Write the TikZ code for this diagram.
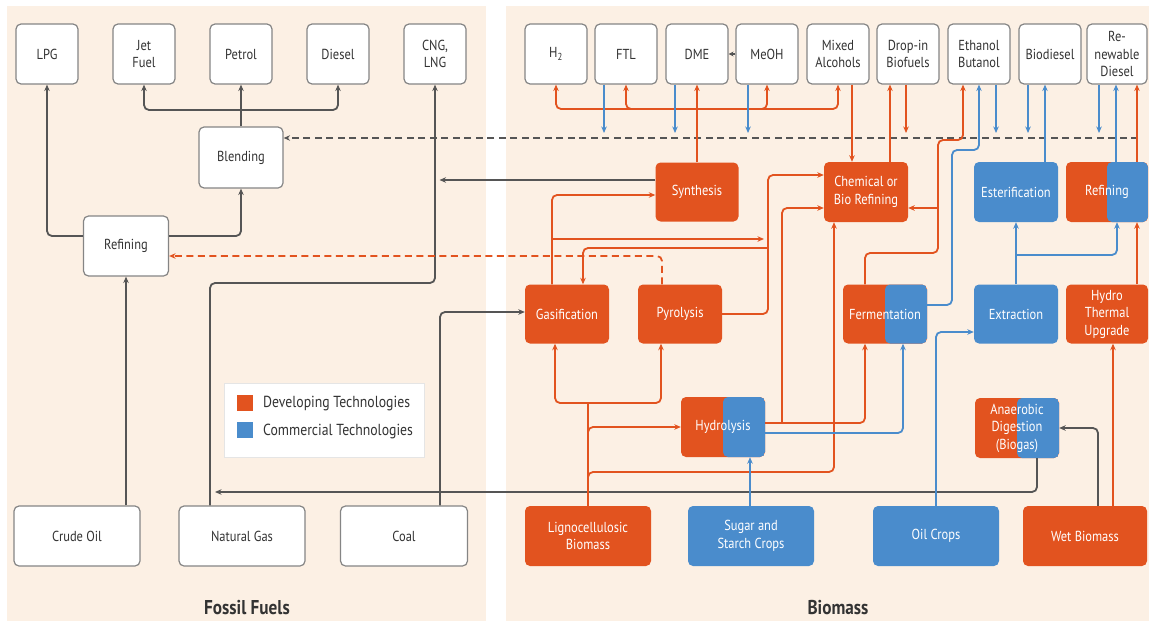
\documentclass[tikz,border=0pt]{standalone}
\usepackage{fontspec}
\setmainfont{PT Sans}[FakeStretch=0.86]
\usetikzlibrary{arrows.meta}
\definecolor{bgp}{HTML}{FCF0E4}
\definecolor{orng}{HTML}{E2531F}
\definecolor{blu}{HTML}{4A8CCC}
\definecolor{lgray}{HTML}{555555}
\definecolor{bgray}{HTML}{858585}
\definecolor{txt}{HTML}{333333}
\newcommand\bxf{\fontsize{14.5}{17.5}\selectfont}
\newcommand\lgf{\fontsize{16}{19}\selectfont}
\newcommand\lbf{\fontsize{20}{24}\selectfont\bfseries}
\begin{document}
\begin{tikzpicture}[x=1pt,y=-1pt,
  base/.style={rectangle, rounded corners=5pt, inner sep=1pt, align=center, font=\bxf},
  wbox/.style={base, draw=bgray, line width=1.2pt, fill=white, text=txt, minimum width=62pt, minimum height=60pt},
  obox/.style={base, fill=orng, text=white, minimum width=84pt, minimum height=59pt},
  bbox/.style={base, fill=blu, text=white, minimum width=84pt, minimum height=59pt},
  sbox/.style={base, fill=orng, text=white, minimum width=84pt, minimum height=59pt,
     path picture={\fill[blu] (path picture bounding box.south) rectangle (path picture bounding box.north east);}},
  conn/.style={line width=1.8pt, rounded corners=5pt, -{Stealth[length=6.5pt,width=5.5pt]}},
  gc/.style={conn, draw=lgray},
  oc/.style={conn, draw=orng},
  bc/.style={conn, draw=blu},
  dsh/.style={dash pattern=on 7pt off 4.5pt}
]
\useasboundingbox (0,0) rectangle (1149,621);
\fill[white] (0,0) rectangle (1149,621);
\fill[bgp] (7,6) rectangle (486,621);
\fill[bgp] (506,6) rectangle (1149,621);

% ---------- fossil nodes
\node[wbox] (lpg) at (47,54) {LPG};
\node[wbox] (jet) at (144,54) {Jet\\Fuel};
\node[wbox] (petrol) at (241,54) {Petrol};
\node[wbox] (diesel) at (338,54) {Diesel};
\node[wbox] (cng) at (435,54) {CNG,\\LNG};
\node[wbox, minimum width=84pt, minimum height=61pt] (blend) at (241,157.5) {Blending};
\node[wbox, minimum width=85pt] (refF) at (126,246) {Refining};
\node[wbox, minimum width=126pt] (crude) at (77,536) {Crude Oil};
\node[wbox, minimum width=126pt] (natgas) at (242,536) {Natural Gas};
\node[wbox, minimum width=127pt] (coal) at (404,536) {Coal};

% ---------- biomass products
\node[wbox] (h2) at (556,54) {H\textsubscript{2}};
\node[wbox] (ftl) at (626,54) {FTL};
\node[wbox] (dme) at (697,54) {DME};
\node[wbox] (meoh) at (767,54) {MeOH};
\node[wbox] (mixed) at (838,54) {Mixed\\Alcohols};
\node[wbox] (dropin) at (908,54) {Drop-in\\Biofuels};
\node[wbox] (ethanol) at (979,54) {Ethanol\\Butanol};
\node[wbox] (biodiesel) at (1050,54) {Biodiesel};
\node[wbox, minimum width=60pt] (renew) at (1117,54) {Re-\\newable\\Diesel};

% ---------- biomass processes
\node[obox, minimum width=83pt] (synth) at (697,192) {Synthesis};
\node[obox, minimum height=60pt] (chem) at (866,192) {Chemical or\\Bio Refining};
\node[bbox, minimum height=60pt] (ester) at (1016,192) {Esterification};
\node[sbox, minimum width=82pt, minimum height=60pt] (refB) at (1107,192) {Refining};
\node[obox] (gasif) at (567,314) {Gasification};
\node[obox] (pyro) at (680,314) {Pyrolysis};
\node[sbox] (ferm) at (885,314) {Fermentation};
\node[bbox] (extr) at (1016,314) {Extraction};
\node[obox, minimum width=82pt] (htu) at (1107,314) {Hydro\\Thermal\\Upgrade};
\node[sbox, minimum height=60pt] (hydro) at (723,427) {Hydrolysis};
\node[sbox, minimum height=60pt] (ad) at (1017,428) {Anaerobic\\Digestion\\(Biogas)};

% ---------- feedstocks
\node[obox, minimum width=126pt, minimum height=60pt] (ligno) at (588,536) {Lignocellulosic\\Biomass};
\node[bbox, minimum width=126pt, minimum height=60pt] (sugar) at (751,536) {Sugar and\\Starch Crops};
\node[bbox, minimum width=126pt, minimum height=60pt] (oil) at (936,536) {Oil Crops};
\node[obox, minimum width=124pt, minimum height=60pt] (wet) at (1085,536) {Wet Biomass};

% ---------- legend
\node[draw=black!10, fill=white, minimum width=200pt, minimum height=74pt, inner sep=0] (leg) at (324,420) {};
\node[fill=orng, minimum size=16pt, inner sep=0] (lego) at (245,403) {};
\node[fill=blu, minimum size=16pt, inner sep=0] (legb) at (245,430) {};
\node[anchor=west, font=\lgf, text=txt, inner sep=0] (lgt1) at (263,404) {Developing Technologies};
\node[anchor=west, font=\lgf, text=txt, inner sep=0] (lgt2) at (263,431) {Commercial Technologies};

% ---------- section labels
\node[font=\lbf, text=txt] (ffl) at (247,608) {Fossil Fuels};
\node[font=\lbf, text=txt] (bml) at (838,608) {Biomass};

% ---------- coordinates
\coordinate (bj) at (241,110);
\coordinate (ngc) at (210,283);
\coordinate (synend) at (439.5,180);
\coordinate (coalc) at (440,312);
\coordinate (adc) at (1037,492);
\coordinate (adend) at (215,492);
\coordinate (wetc) at (1098,428);
\coordinate (dashR) at (1138,138);
\coordinate (sj) at (697,109);
\coordinate (dd0) at (906,133);
\coordinate (d1) at (604,133);
\coordinate (d2) at (675,133);
\coordinate (d3) at (748,133);
\coordinate (d4) at (996,133);
\coordinate (d5) at (1028,133);
\coordinate (d6) at (1099,133);
\coordinate (fe1) at (865,253);
\coordinate (fe2) at (938,253);
\coordinate (fe3) at (938,140);
\coordinate (fe4) at (963,140);
\coordinate (fc) at (938,208);
\coordinate (ho) at (865,423);
\coordinate (hc1) at (782,423);
\coordinate (hc2) at (782,208);
\coordinate (pc1) at (768,314);
\coordinate (pc2) at (768,175);
\coordinate (pg1) at (768,248);
\coordinate (pg2) at (583,248);
\coordinate (gs1) at (552,195);
\coordinate (gb1) at (552,239);
\coordinate (gb2) at (764,239);
\coordinate (lj) at (588,403);
\coordinate (lg) at (555,403);
\coordinate (lp) at (661,403);
\coordinate (lh) at (588,427);
\coordinate (lc1) at (588,472);
\coordinate (lc2) at (834,472);
\coordinate (po) at (662,256);
\coordinate (fb1) at (952,305);
\coordinate (fb2) at (952,150);
\coordinate (er1) at (1016,255);
\coordinate (er2) at (1117,255);
\coordinate (oe) at (936,332);
\coordinate (hb) at (903,433);

% ---------- fossil connectors
\draw[gc] ([yshift=10pt]refF.west) -| (lpg.south);
\draw[gc] ([yshift=10pt]refF.east) -| (blend.south);
\draw[gc] (blend.north) -- (blend.north |- petrol.south);
\draw[gc] (bj) -| (jet.south);
\draw[gc] (bj) -| (diesel.south);
\draw[gc] (refF.south |- crude.north) -- (refF.south);
\draw[gc] (natgas.north -| ngc) -- (ngc) -| (cng.south);
\draw[gc] (synth.west |- synend) -- (synend);
\draw[gc] (coal.north -| coalc) -- (coalc) -- (gasif.west |- coalc);
\draw[gc] (ad.south -| adc) -- (adc) -- (adend);
\draw[gc] (wet.north -| wetc) -- (wetc) -- (ad.east |- wetc);
\draw[gc, dsh] (dashR) -- (blend.east |- dashR);
\draw[gc, -{Stealth[length=5pt,width=5pt]}] (meoh.west) -- (dme.east);

% ---------- orange connectors
\draw[oc] (synth.north) -- (dme.south);
\draw[oc] (sj) -| (h2.south);
\draw[oc] (sj) -| (ftl.south);
\draw[oc] (sj) -| (meoh.south);
\draw[oc] (sj) -| (mixed.south);
\draw[oc] (mixed.south -| 852,0) -- (chem.north -| 852,0);
\draw[oc] (chem.north -| 890,0) -- (dropin.south -| 890,0);
\draw[oc] (dropin.south -| dd0) -- (dd0);
\draw[oc] (ferm.north -| fe1) -- (fe1) -- (fe2) -- (fe3) -- (fe4) -- (ethanol.south -| fe4);
\draw[oc] (fc) -- (chem.east |- fc);
\draw[oc] (hydro.east |- ho) -- (ho) -- (ferm.south -| ho);
\draw[oc] (hc1) -- (hc2) -- (chem.west |- hc2);
\draw[oc] (pyro.east) -- (pc1) -- (pc2) -- (chem.west |- pc2);
\draw[oc] (pg1) -- (pg2) -- (gasif.north -| pg2);
\draw[oc] (gasif.north -| gs1) -- (gs1) -- (synth.west |- gs1);
\draw[oc] (gb1) -- (gb2);
\draw[oc, -] (ligno.north) -- (lj);
\draw[oc] (lj) -- (lg) -- (gasif.south -| lg);
\draw[oc] (lj) -- (lp) -- (pyro.south -| lp);
\draw[oc] ([yshift=-8pt]lh) -- (lh) -- (hydro.west |- lh);
\draw[oc] ([yshift=-8pt]lc1) -- (lc1) -- (lc2) -- (chem.south -| lc2);
\draw[oc] (htu.north -| 1137,0) -- (refB.south -| 1137,0);
\draw[oc] (refB.north -| 1137,0) -- (renew.south -| 1137,0);
\draw[oc] (wet.north -| 1113,0) -- (htu.south -| 1113,0);
\draw[oc, dsh] (pyro.north -| po) -- (po) -- (refF.east |- po);

% ---------- blue connectors
\draw[bc] (ftl.south -| d1) -- (d1);
\draw[bc] (dme.south -| d2) -- (d2);
\draw[bc] (meoh.south -| d3) -- (d3);
\draw[bc] (ethanol.south -| d4) -- (d4);
\draw[bc] (biodiesel.south -| d5) -- (d5);
\draw[bc] (renew.south -| d6) -- (d6);
\draw[bc] (ferm.east |- fb1) -- (fb1) -- (fb2) -| (ethanol.south);
\draw[bc] (ester.north -| 1045,0) -- (biodiesel.south -| 1045,0);
\draw[bc] (refB.north -| 1116,0) -- (renew.south -| 1116,0);
\draw[bc] (extr.north) -- (ester.south);
\draw[bc] (er1) -- (er2) -- (refB.south -| er2);
\draw[bc] (oil.north) -- (oe) -- (extr.west |- oe);
\draw[bc] (sugar.north -| 750,0) -- (hydro.south -| 750,0);
\draw[bc] (hydro.east |- hb) -- (hb) -- (ferm.south -| hb);
\end{tikzpicture}
\end{document}
